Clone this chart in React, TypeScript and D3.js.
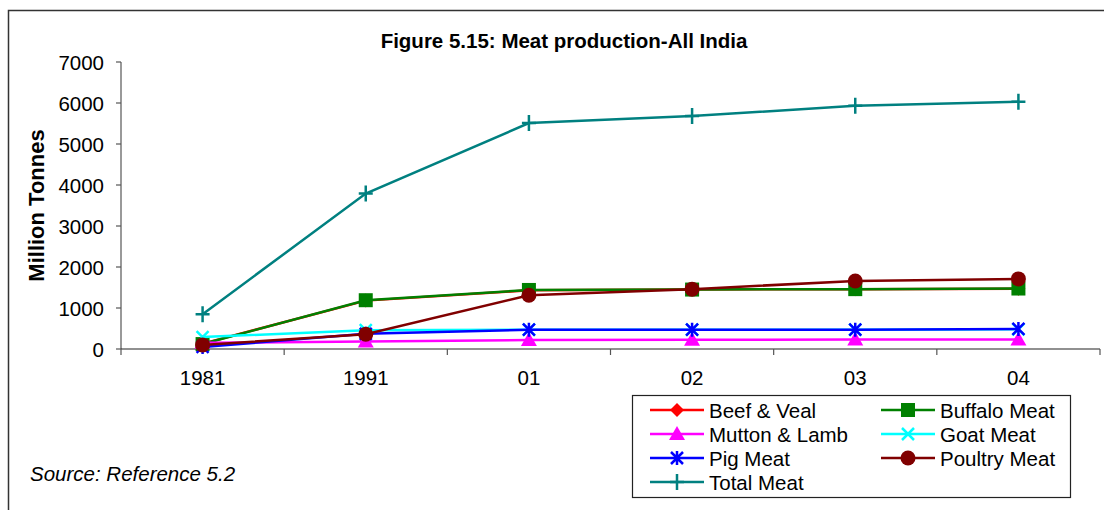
import React from "react";
import * as d3 from "d3";

const categories = ["1981", "1991", "01", "02", "03", "04"];
const beefVeal = [130, 1180, 1430, 1450, 1460, 1470];
const buffaloMeat = [120, 1190, 1440, 1450, 1460, 1475];
const muttonLamb = [150, 180, 220, 225, 230, 230];
const goatMeat = [290, 460, 470, 470, 470, 480];
const pigMeat = [50, 370, 470, 470, 470, 490];
const poultryMeat = [100, 360, 1310, 1460, 1660, 1710];
const totalMeat = [850, 3790, 5510, 5680, 5930, 6030];
const yTicks = [0, 1000, 2000, 3000, 4000, 5000, 6000, 7000];

type Sym = "diamond" | "square" | "triangle" | "x" | "star" | "circle" | "plus";
const series: { name: string; values: number[]; color: string; sym: Sym }[] = [
  { name: "Beef & Veal", values: beefVeal, color: "#ff0000", sym: "diamond" },
  { name: "Buffalo Meat", values: buffaloMeat, color: "#008000", sym: "square" },
  { name: "Mutton & Lamb", values: muttonLamb, color: "#ff00ff", sym: "triangle" },
  { name: "Goat Meat", values: goatMeat, color: "#00ffff", sym: "x" },
  { name: "Pig Meat", values: pigMeat, color: "#0000ff", sym: "star" },
  { name: "Poultry Meat", values: poultryMeat, color: "#800000", sym: "circle" },
  { name: "Total Meat", values: totalMeat, color: "#008080", sym: "plus" },
];

const FONT = "'Liberation Sans', Arial, sans-serif";
const FS = 20.5;

function Marker({ x, y, sym, color }: { x: number; y: number; sym: Sym; color: string }) {
  switch (sym) {
    case "diamond":
      return <path d={`M${x},${y - 7}L${x + 7},${y}L${x},${y + 7}L${x - 7},${y}Z`} fill={color} />;
    case "square":
      return <rect x={x - 7} y={y - 7} width={14} height={14} fill={color} />;
    case "triangle":
      return <path d={`M${x},${y - 8}L${x + 8},${y + 6}L${x - 8},${y + 6}Z`} fill={color} />;
    case "x":
      return (
        <path d={`M${x - 6},${y - 6}L${x + 6},${y + 6}M${x + 6},${y - 6}L${x - 6},${y + 6}`} stroke={color} strokeWidth={2.5} />
      );
    case "star":
      return (
        <path
          d={`M${x - 6},${y - 6}L${x + 6},${y + 6}M${x + 6},${y - 6}L${x - 6},${y + 6}M${x},${y - 7}L${x},${y + 7}`}
          stroke={color}
          strokeWidth={2.5}
        />
      );
    case "circle":
      return <circle cx={x} cy={y} r={7.5} fill={color} />;
    case "plus":
      return <path d={`M${x - 7},${y}L${x + 7},${y}M${x},${y - 8}L${x},${y + 8}`} stroke={color} strokeWidth={2.5} />;
  }
}

export default function App() {
  const left = 121, right = 1100, top = 62, bottom = 349;
  const x = d3.scaleBand<string>().domain(categories).range([left, right]);
  const y = d3.scaleLinear().domain([0, 7000]).range([bottom, top]);
  const cx = (c: string) => (x(c) as number) + x.bandwidth() / 2;
  const line = d3
    .line<number>()
    .x((_, i) => cx(categories[i]))
    .y((v) => y(v));

  const legendRows = [
    [series[0], series[1]],
    [series[2], series[3]],
    [series[4], series[5]],
    [series[6]],
  ];

  return (
    <svg
      width={1104}
      height={510}
      style={{ position: "absolute", left: 0, top: 0, display: "block", background: "#fff" }}
      fontFamily={FONT}
    >
      <rect x={0} y={0} width={1104} height={510} fill="#fff" />
      <path d="M8.5,510V10.5H1104" fill="none" stroke="#333" strokeWidth={1.5} />
      <text x={564} y={48} textAnchor="middle" fontSize={20.5} fontWeight="bold">
        Figure 5.15: Meat production-All India
      </text>
      <text
        transform={`translate(44,${(top + bottom) / 2}) rotate(-90)`}
        textAnchor="middle"
        fontSize={22}
        fontWeight="bold"
      >
        Million Tonnes
      </text>
      {/* y axis */}
      <line x1={left} x2={left} y1={top} y2={bottom} stroke="#555" strokeWidth={1.2} />
      {yTicks.map((t) => (
        <g key={t}>
          <line x1={left - 5} x2={left} y1={y(t)} y2={y(t)} stroke="#555" strokeWidth={1.2} />
          <text x={left - 17} y={y(t) + 7.5} textAnchor="end" fontSize={FS}>
            {t}
          </text>
        </g>
      ))}
      {/* x axis */}
      <line x1={left} x2={right} y1={bottom} y2={bottom} stroke="#222" strokeWidth={1.2} />
      {categories.map((c) => (
        <line key={"t" + c} x1={x(c)} x2={x(c)} y1={bottom} y2={bottom + 6} stroke="#555" strokeWidth={1.2} />
      ))}
      <line x1={right} x2={right} y1={bottom} y2={bottom + 6} stroke="#555" strokeWidth={1.2} />
      {categories.map((c) => (
        <text key={"l" + c} x={cx(c)} y={bottom + 36} textAnchor="middle" fontSize={FS}>
          {c}
        </text>
      ))}
      {/* series */}
      {series.map((s) => (
        <g key={s.name}>
          <path d={line(s.values) || ""} fill="none" stroke={s.color} strokeWidth={2.5} />
          {s.values.map((v, i) => (
            <Marker key={i} x={cx(categories[i])} y={y(v)} sym={s.sym} color={s.color} />
          ))}
        </g>
      ))}
      {/* legend */}
      <rect x={632.5} y={395.5} width={438} height={102} fill="#fff" stroke="#222" strokeWidth={1.2} />
      {legendRows.map((row, r) =>
        row.map((s, c) => {
          const lx = c === 0 ? 650 : 881;
          const ly = 410 + r * 24;
          return (
            <g key={s.name}>
              <line x1={lx} x2={lx + 54} y1={ly} y2={ly} stroke={s.color} strokeWidth={2.5} />
              <Marker x={lx + 27} y={ly} sym={s.sym} color={s.color} />
              <text x={lx + 59} y={ly + 7.5} fontSize={FS}>
                {s.name}
              </text>
            </g>
          );
        })
      )}
      <text x={30} y={481} fontSize={FS} fontStyle="italic">
        Source: Reference 5.2
      </text>
    </svg>
  );
}
